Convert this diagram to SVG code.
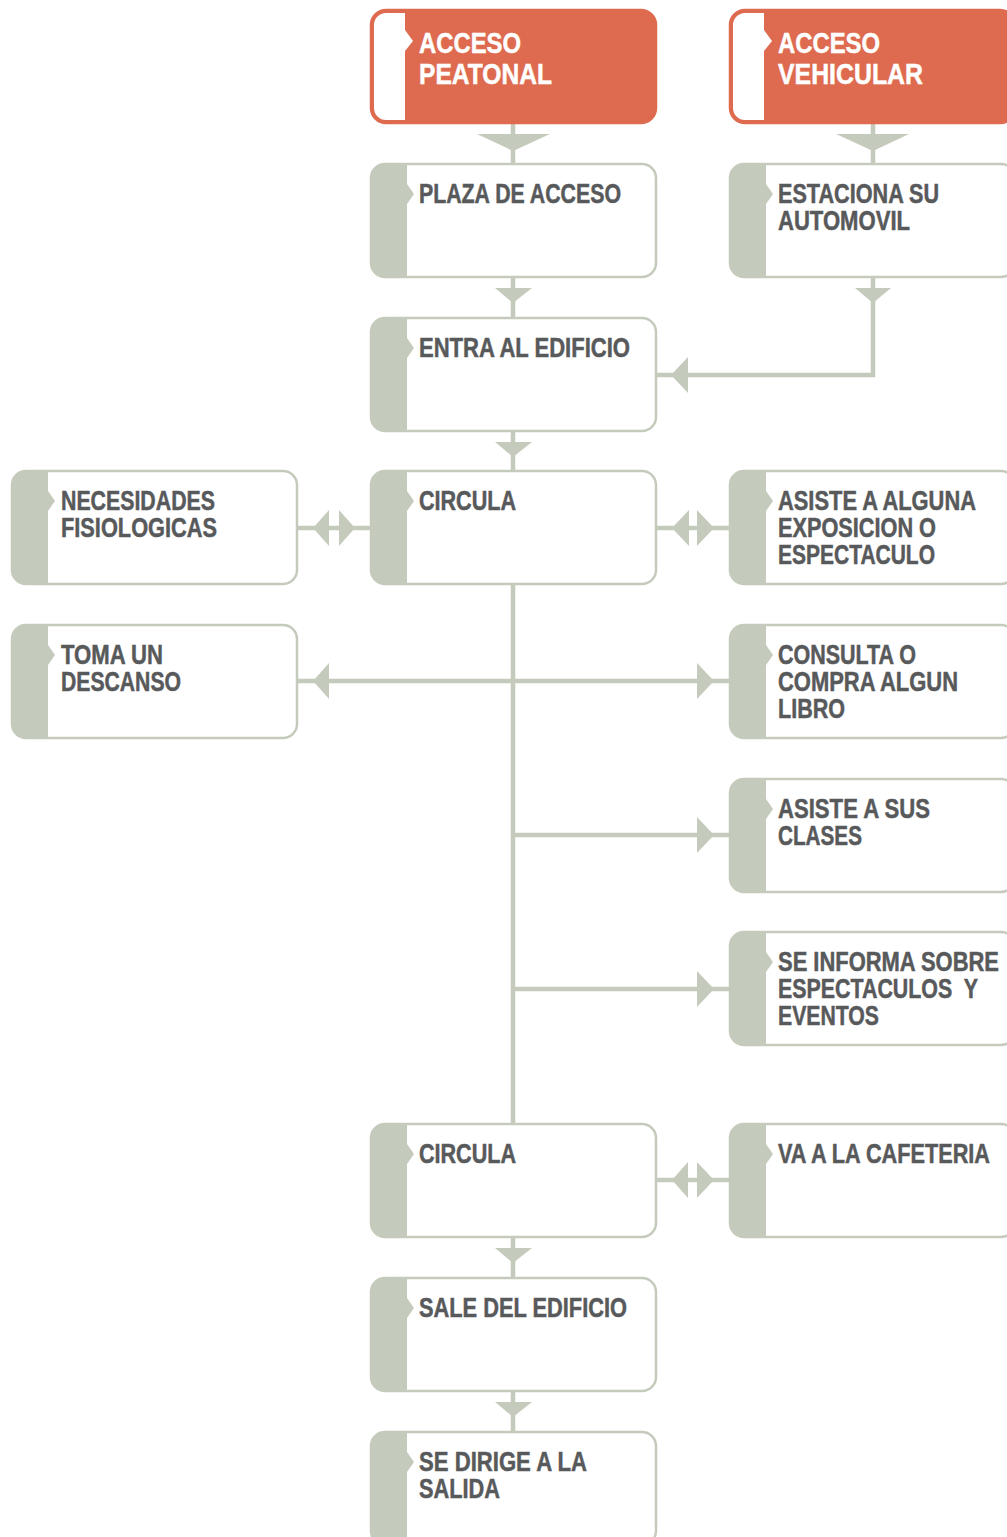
<svg xmlns="http://www.w3.org/2000/svg" xmlns:xlink="http://www.w3.org/1999/xlink" width="1007" height="1537" viewBox="0 0 1007 1537">
<style>
.box{fill:#fff;stroke:#c5cbbc;stroke-width:2.5}
.band{fill:#c5cbbc}
.hbox{fill:#de6b4f;stroke:#de6b4f;stroke-width:2.5}
.hband{fill:#fff}
.t{font-family:"Liberation Sans",Arial,sans-serif;font-weight:bold;font-size:27px;fill:#58595b;stroke:#58595b;stroke-width:0.5}
.ht{font-family:"Liberation Sans",Arial,sans-serif;font-weight:bold;font-size:30px;fill:#fff;stroke:#fff;stroke-width:0.5}
.ln{fill:none;stroke:#c5cbbc;stroke-width:4.5}
.ah{fill:#c5cbbc}
</style>
<defs>
<path id="band" class="band" d="M14,0 H36 V20 L43,30 L36,40 V113 H14 A14,14 0 0 1 0,99 V14 A14,14 0 0 1 14,0 Z"/>
<path id="hband" class="hband" d="M15,3 H34 V20 L42,31 L34,41 V110 H15 A12,12 0 0 1 3,98 V15 A12,12 0 0 1 15,3 Z"/>
</defs>
<rect width="1007" height="1537" fill="#fff"/>
<g id="connectors">
<path class="ln" d="M513,124 V164 M873,124 V164 M513,277 V318 M873,277 V375 H656 M513,431 V471 M297,528 H371 M656,528 H730 M513,584 V1124 M297,681 H730 M513,835 H730 M513,989 H730 M656,1180 H730 M513,1237 V1278 M513,1391 V1432"/>
<polygon class="ah" points="477,134 550,134 513,151"/>
<polygon class="ah" points="836,134 909,134 873,151"/>
<polygon class="ah" points="495,288 532,288 513,303"/>
<polygon class="ah" points="855,288 891,288 873,303"/>
<polygon class="ah" points="495,442 532,442 513,457"/>
<polygon class="ah" points="495,1248 532,1248 513,1263"/>
<polygon class="ah" points="495,1402 532,1402 513,1417"/>
<polygon class="ah" points="671,375 688,357 688,393"/>
<polygon class="ah" points="313,528 329,510 329,546"/>
<polygon class="ah" points="355,528 339,510 339,546"/>
<polygon class="ah" points="672,528 689,510 689,546"/>
<polygon class="ah" points="714,528 697,510 697,546"/>
<polygon class="ah" points="313,681 329,663 329,699"/>
<polygon class="ah" points="714,681 697,663 697,699"/>
<polygon class="ah" points="714,835 697,817 697,853"/>
<polygon class="ah" points="714,989 697,971 697,1007"/>
<polygon class="ah" points="672,1180 688,1162 688,1198"/>
<polygon class="ah" points="714,1180 697,1162 697,1198"/>
</g>
<g id="n_peatonal" transform="translate(371,10)">
<rect class="hbox" width="285" height="113" rx="15"/>
<use href="#hband"/>
<text class="ht" x="48" y="43" textLength="102" lengthAdjust="spacingAndGlyphs">ACCESO</text>
<text class="ht" x="48" y="74" textLength="133" lengthAdjust="spacingAndGlyphs">PEATONAL</text>
</g>
<g id="n_vehicular" transform="translate(730,10)">
<rect class="hbox" width="285" height="113" rx="15"/>
<use href="#hband"/>
<text class="ht" x="48" y="43" textLength="102" lengthAdjust="spacingAndGlyphs">ACCESO</text>
<text class="ht" x="48" y="74" textLength="145" lengthAdjust="spacingAndGlyphs">VEHICULAR</text>
</g>
<g id="n_plaza" transform="translate(371,164)">
<rect class="box" width="285" height="113" rx="14"/>
<use href="#band"/>
<text class="t" x="48" y="39" textLength="202" lengthAdjust="spacingAndGlyphs">PLAZA DE ACCESO</text>
</g>
<g id="n_estaciona" transform="translate(730,164)">
<rect class="box" width="285" height="113" rx="14"/>
<use href="#band"/>
<text class="t" x="48" y="39" textLength="161" lengthAdjust="spacingAndGlyphs">ESTACIONA SU</text>
<text class="t" x="48" y="66" textLength="132" lengthAdjust="spacingAndGlyphs">AUTOMOVIL</text>
</g>
<g id="n_entra" transform="translate(371,318)">
<rect class="box" width="285" height="113" rx="14"/>
<use href="#band"/>
<text class="t" x="48" y="39" textLength="211" lengthAdjust="spacingAndGlyphs">ENTRA AL EDIFICIO</text>
</g>
<g id="n_necesidades" transform="translate(12,471)">
<rect class="box" width="285" height="113" rx="14"/>
<use href="#band"/>
<text class="t" x="49" y="39" textLength="154" lengthAdjust="spacingAndGlyphs">NECESIDADES</text>
<text class="t" x="49" y="66" textLength="156" lengthAdjust="spacingAndGlyphs">FISIOLOGICAS</text>
</g>
<g id="n_circula1" transform="translate(371,471)">
<rect class="box" width="285" height="113" rx="14"/>
<use href="#band"/>
<text class="t" x="48" y="39" textLength="97" lengthAdjust="spacingAndGlyphs">CIRCULA</text>
</g>
<g id="n_asiste" transform="translate(730,471)">
<rect class="box" width="285" height="113" rx="14"/>
<use href="#band"/>
<text class="t" x="48" y="39" textLength="198" lengthAdjust="spacingAndGlyphs">ASISTE A ALGUNA</text>
<text class="t" x="48" y="66" textLength="158" lengthAdjust="spacingAndGlyphs">EXPOSICION O</text>
<text class="t" x="48" y="93" textLength="157" lengthAdjust="spacingAndGlyphs">ESPECTACULO</text>
</g>
<g id="n_toma" transform="translate(12,625)">
<rect class="box" width="285" height="113" rx="14"/>
<use href="#band"/>
<text class="t" x="49" y="39" textLength="102" lengthAdjust="spacingAndGlyphs">TOMA UN</text>
<text class="t" x="49" y="66" textLength="120" lengthAdjust="spacingAndGlyphs">DESCANSO</text>
</g>
<g id="n_consulta" transform="translate(730,625)">
<rect class="box" width="285" height="113" rx="14"/>
<use href="#band"/>
<text class="t" x="48" y="39" textLength="138" lengthAdjust="spacingAndGlyphs">CONSULTA O</text>
<text class="t" x="48" y="66" textLength="180" lengthAdjust="spacingAndGlyphs">COMPRA ALGUN</text>
<text class="t" x="48" y="93" textLength="67" lengthAdjust="spacingAndGlyphs">LIBRO</text>
</g>
<g id="n_clases" transform="translate(730,779)">
<rect class="box" width="285" height="113" rx="14"/>
<use href="#band"/>
<text class="t" x="48" y="39" textLength="152" lengthAdjust="spacingAndGlyphs">ASISTE A SUS</text>
<text class="t" x="48" y="66" textLength="84" lengthAdjust="spacingAndGlyphs">CLASES</text>
</g>
<g id="n_informa" transform="translate(730,932)">
<rect class="box" width="285" height="113" rx="14"/>
<use href="#band"/>
<text class="t" x="48" y="39" textLength="221" lengthAdjust="spacingAndGlyphs">SE INFORMA SOBRE</text>
<text class="t" x="48" y="66" textLength="200" lengthAdjust="spacingAndGlyphs" xml:space="preserve">ESPECTACULOS  Y</text>
<text class="t" x="48" y="93" textLength="101" lengthAdjust="spacingAndGlyphs">EVENTOS</text>
</g>
<g id="n_circula2" transform="translate(371,1124)">
<rect class="box" width="285" height="113" rx="14"/>
<use href="#band"/>
<text class="t" x="48" y="39" textLength="97" lengthAdjust="spacingAndGlyphs">CIRCULA</text>
</g>
<g id="n_cafeteria" transform="translate(730,1124)">
<rect class="box" width="285" height="113" rx="14"/>
<use href="#band"/>
<text class="t" x="48" y="39" textLength="212" lengthAdjust="spacingAndGlyphs">VA A LA CAFETERIA</text>
</g>
<g id="n_sale" transform="translate(371,1278)">
<rect class="box" width="285" height="113" rx="14"/>
<use href="#band"/>
<text class="t" x="48" y="39" textLength="208" lengthAdjust="spacingAndGlyphs">SALE DEL EDIFICIO</text>
</g>
<g id="n_dirige" transform="translate(371,1432)">
<rect class="box" width="285" height="113" rx="14"/>
<use href="#band"/>
<text class="t" x="48" y="39" textLength="168" lengthAdjust="spacingAndGlyphs">SE DIRIGE A LA</text>
<text class="t" x="48" y="66" textLength="81" lengthAdjust="spacingAndGlyphs">SALIDA</text>
</g>
</svg>
